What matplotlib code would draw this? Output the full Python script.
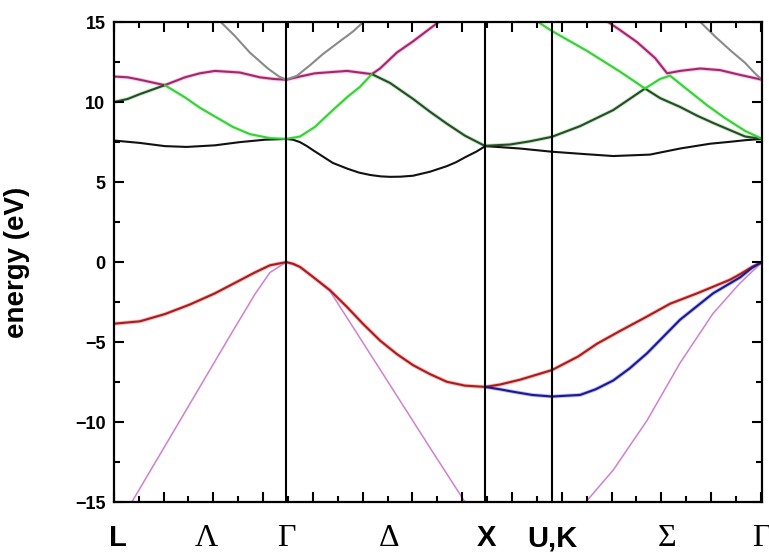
import matplotlib
matplotlib.use("Agg")
import matplotlib.pyplot as plt
from matplotlib.ticker import MultipleLocator

# high-symmetry points along the path (k in units of 2pi/a)
sym_k = [0.0, 0.866, 1.866, 2.20, 3.256]
vline_k = [0.866, 1.866, 2.20]
label_k = [0.02, 0.467, 0.866, 1.38, 1.872, 2.205, 2.78, 3.25]
label_txt = ["L", "Λ", "Γ", "Δ", "X", "U,K", "Σ", "Γ"]
label_greek = [False, True, True, True, False, False, True, True]

# valence bands
red_k = [0.0, 0.131, 0.256, 0.382, 0.508, 0.608, 0.708, 0.784, 0.866,
         0.90, 0.935, 1.000, 1.085, 1.171, 1.251, 1.337, 1.422, 1.503, 1.588, 1.673, 1.764, 1.866,
         1.940, 2.040, 2.20, 2.332, 2.427, 2.543, 2.678, 2.794, 2.930, 3.095, 3.146, 3.206, 3.256]
red_e = [-3.85, -3.7, -3.25, -2.65, -1.95, -1.3, -0.65, -0.2, 0.0,
         -0.1, -0.3, -0.92, -1.75, -2.8, -3.85, -4.9, -5.75, -6.44, -7.0, -7.48, -7.72, -7.8,
         -7.65, -7.35, -6.75, -5.9, -5.1, -4.3, -3.4, -2.6, -1.95, -1.1, -0.75, -0.3, 0.0]

blue_k = [1.866, 1.940, 2.005, 2.10, 2.20, 2.342, 2.42, 2.508, 2.59, 2.678, 2.844, 3.010, 3.146, 3.206, 3.256]
blue_e = [-7.8, -7.95, -8.1, -8.3, -8.4, -8.3, -7.95, -7.4, -6.65, -5.7, -3.6, -1.95, -0.95, -0.35, 0.0]

violet1_k = [0.055, 0.095, 0.266, 0.432, 0.598, 0.709, 0.784, 0.866]
violet1_e = [-15.8, -14.9, -11.3, -7.8, -4.3, -2.0, -0.65, 0.0]
violet2_k = [0.866, 0.935, 1.000, 1.085, 1.337, 1.588, 1.764, 1.799]
violet2_e = [0.0, -0.3, -0.92, -1.8, -6.7, -11.6, -15.0, -15.7]
violet3_k = [2.332, 2.377, 2.508, 2.678, 2.844, 3.010, 3.146, 3.256]
violet3_e = [-15.7, -14.9, -13.0, -9.9, -6.3, -3.2, -1.3, 0.0]

# lowest conduction band
black1_k = [0.0, 0.131, 0.256, 0.367, 0.508, 0.633, 0.759, 0.866,
            0.90, 0.935, 0.97, 1.000, 1.05, 1.10, 1.171, 1.23, 1.286, 1.34, 1.387, 1.44, 1.503,
            1.588, 1.673, 1.72, 1.764, 1.82, 1.866,
            2.040, 2.20, 2.367, 2.508, 2.693, 2.844, 2.995, 3.095, 3.171, 3.256]
black1_e = [7.6, 7.45, 7.25, 7.2, 7.3, 7.5, 7.65, 7.7,
            7.65, 7.5, 7.25, 7.0, 6.6, 6.2, 5.85, 5.6, 5.45, 5.36, 5.33, 5.34, 5.4,
            5.65, 6.0, 6.25, 6.55, 6.9, 7.25,
            7.1, 6.9, 6.75, 6.63, 6.72, 7.1, 7.4, 7.52, 7.62, 7.7]

# upper conduction bands, piece by piece
mag1_k = [0.0, 0.07, 0.131, 0.256]
mag1_e = [11.6, 11.55, 11.4, 11.06]
mag2_k = [0.256, 0.357, 0.432, 0.508, 0.633, 0.734, 0.80, 0.866]
mag2_e = [11.06, 11.55, 11.8, 11.95, 11.85, 11.55, 11.45, 11.4]
mag3_k = [0.866, 0.935, 1.010, 1.171, 1.296, 1.337, 1.422, 1.503, 1.588, 1.663]
mag3_e = [11.4, 11.6, 11.8, 11.95, 11.75, 12.1, 13.1, 13.8, 14.6, 15.3]
mag4_k = [2.46, 2.543, 2.628, 2.719, 2.779, 2.844, 2.945, 3.045, 3.146, 3.256]
mag4_e = [15.2, 14.5, 13.75, 12.75, 11.8, 11.95, 12.1, 12.0, 11.7, 11.4]

dgreen1_k = [0.0, 0.07, 0.131, 0.256]
dgreen1_e = [10.0, 10.2, 10.5, 11.06]
dgreen2_k = [1.296, 1.387, 1.503, 1.588, 1.673, 1.764, 1.866]
dgreen2_e = [11.75, 11.2, 10.2, 9.4, 8.65, 7.9, 7.25]
dgreen3_k = [1.866, 1.990, 2.090, 2.20, 2.342, 2.508, 2.668]
dgreen3_e = [7.27, 7.35, 7.55, 7.83, 8.5, 9.5, 10.85]
dgreen4_k = [2.668, 2.744, 2.844, 2.930, 3.010, 3.095, 3.171, 3.256]
dgreen4_e = [10.85, 10.25, 9.7, 9.15, 8.7, 8.25, 7.85, 7.7]

green1_k = [0.256, 0.357, 0.432, 0.508, 0.598, 0.683, 0.784, 0.866]
green1_e = [11.06, 10.3, 9.65, 9.1, 8.45, 8.0, 7.75, 7.7]
green2_k = [0.866, 0.935, 1.010, 1.10, 1.171, 1.236, 1.296]
green2_e = [7.7, 7.85, 8.45, 9.5, 10.3, 10.95, 11.75]
green3_k = [2.10, 2.126, 2.20, 2.377, 2.543, 2.668]
green3_e = [15.25, 15.05, 14.45, 13.2, 11.9, 10.85]
green4_k = [2.668, 2.744, 2.794, 2.869, 2.980, 3.070, 3.171, 3.256]
green4_e = [10.85, 11.45, 11.65, 10.9, 9.8, 9.0, 8.2, 7.7]

gray1_k = [0.513, 0.603, 0.683, 0.774, 0.83, 0.866]
gray1_e = [15.3, 14.2, 13.1, 12.1, 11.6, 11.4]
gray2_k = [0.866, 0.92, 0.985, 1.05, 1.135, 1.20, 1.27]
gray2_e = [11.4, 11.65, 12.3, 13.0, 13.8, 14.4, 15.2]
gray3_k = [2.93, 3.02, 3.10, 3.171, 3.22, 3.256]
gray3_e = [15.2, 14.1, 13.2, 12.45, 11.8, 11.4]

plt.rcParams['font.family'] = ['Liberation Sans', 'DejaVu Sans']

fig = plt.figure(figsize=(7.69, 5.53), dpi=100)
ax = fig.add_axes([0.148, 0.092, 0.843, 0.868])
ax.set_axisbelow(False)


def band(k, e, core, halo=None, lw=1.5):
    # faint halo under a darker core, like the blurry original
    if halo is not None:
        ax.plot(k, e, color=halo, lw=lw + 1.3, alpha=0.35, solid_capstyle='round',
                solid_joinstyle='round', zorder=2)
    ax.plot(k, e, color=core, lw=lw, solid_capstyle='round', solid_joinstyle='round', zorder=2.2)


band(violet1_k, violet1_e, '#cf80d0', lw=1.1)
band(violet2_k, violet2_e, '#cf80d0', lw=1.1)
band(violet3_k, violet3_e, '#cf80d0', lw=1.1)
band(red_k, red_e, '#a51e1e', '#ff3535')
band(blue_k, blue_e, '#1a1a8c', '#3a3aff')
band(black1_k, black1_e, '#111111')

for k, e in [(mag1_k, mag1_e), (mag2_k, mag2_e), (mag3_k, mag3_e), (mag4_k, mag4_e)]:
    band(k, e, '#a02a66', '#ff55cc')
for k, e in [(dgreen1_k, dgreen1_e), (dgreen2_k, dgreen2_e), (dgreen3_k, dgreen3_e), (dgreen4_k, dgreen4_e)]:
    band(k, e, '#284a28', '#55c055')
for k, e in [(green1_k, green1_e), (green2_k, green2_e), (green3_k, green3_e), (green4_k, green4_e)]:
    band(k, e, '#3ccc3c', '#80ff80')
for k, e in [(gray1_k, gray1_e), (gray2_k, gray2_e), (gray3_k, gray3_e)]:
    band(k, e, '#8a8a8a')

for k in vline_k:
    ax.axvline(k, color='black', lw=1.5, zorder=4)

ax.set_xlim(sym_k[0], sym_k[-1])
ax.set_ylim(-15, 15)

for s in ax.spines.values():
    s.set_linewidth(1.6)

ax.xaxis.set_ticks_position('both')
ax.yaxis.set_ticks_position('both')
ax.xaxis.set_major_locator(MultipleLocator(0.25))
ax.xaxis.set_minor_locator(MultipleLocator(0.125))
ax.yaxis.set_major_locator(MultipleLocator(5))
ax.yaxis.set_minor_locator(MultipleLocator(2.5))
ax.tick_params(axis='both', which='both', direction='in', width=1.5, color='black')
ax.tick_params(axis='x', which='major', length=7.5, labelbottom=False, labeltop=False)
ax.tick_params(axis='x', which='minor', length=4)
ax.tick_params(axis='y', which='major', length=7.5, labelsize=13, pad=6, labelright=False)
ax.tick_params(axis='y', which='minor', length=4.5)
for lab in ax.get_yticklabels():
    lab.set_fontweight('bold')

ax.set_ylabel('energy (eV)', fontsize=20, fontweight='bold')
ax.yaxis.set_label_coords(-0.13, 0.5)

for k, t, g in zip(label_k, label_txt, label_greek):
    if g:
        ax.text(k, -0.075, t, transform=ax.get_xaxis_transform(), ha='center', va='center',
                fontsize=23, family='Liberation Serif')
    else:
        ax.text(k, -0.075, t, transform=ax.get_xaxis_transform(), ha='center', va='center',
                fontsize=21, fontweight='bold')

fig.savefig('out.png', dpi=100)
